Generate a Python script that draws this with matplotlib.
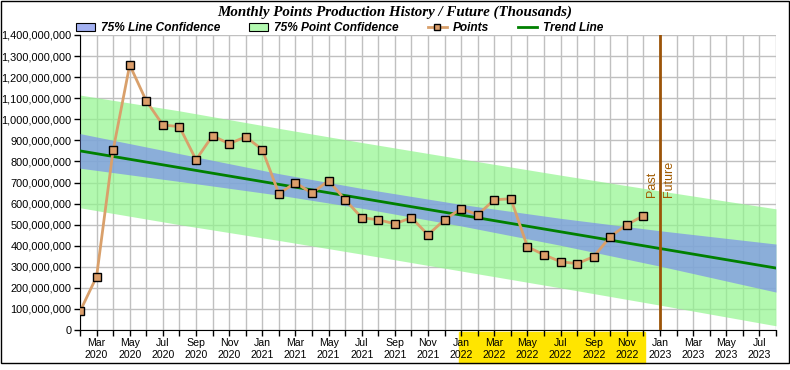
import matplotlib
matplotlib.use("Agg")
import matplotlib.pyplot as plt
import matplotlib.patches as mpatches
import matplotlib.lines as mlines
import matplotlib.transforms as mtransforms
from matplotlib.ticker import FuncFormatter
import pandas as pd
import numpy as np

# monthly points (millions), Feb 2020 .. Dec 2022
points = [88, 253, 854, 1258, 1087, 973, 965, 808, 922, 884, 917, 856,
          647, 699, 649, 709, 618, 533, 523, 504, 533, 452, 523, 576,
          547, 618, 623, 395, 357, 324, 315, 348, 443, 500, 542]

# trend line (millions) at month index 0 (Feb 2020) and 42 (Aug 2023)
trend_months = [0, 42]
trend_vals = [850, 294]

# confidence band edges (millions), read at these month indices
band_months = [0, 6, 12, 17, 23, 29, 35, 42]
line_upper = [932, 837, 742, 672, 596, 530, 471, 408]
line_lower = [768, 705, 640, 578, 494, 402, 303, 180]
point_upper = [1115, 1040, 957, 890, 812, 735, 660, 575]
point_lower = [580, 500, 425, 360, 280, 200, 118, 20]

months = pd.date_range("2020-02-01", periods=43, freq="MS")
month_labels = [d.strftime("%b") + "\n" + d.strftime("%Y") for d in months]
split_month = 35   # Jan 2023, past / future
highlight = (22.85, 34.1)   # 2022 labels highlighted

M = 1e6
fig = plt.figure(figsize=(7.9, 3.7), dpi=100)
ax = fig.add_axes([80 / 790, 1 - 330 / 370, 696 / 790, 295 / 370])

ax.fill_between(band_months, np.array(point_lower) * M, np.array(point_upper) * M,
                color=(146 / 255, 246 / 255, 142 / 255), alpha=0.7, lw=0, zorder=2)
ax.fill_between(band_months, np.array(line_lower) * M, np.array(line_upper) * M,
                color=(123 / 255, 143 / 255, 236 / 255), alpha=0.7, lw=0, zorder=3)
ax.plot(trend_months, np.array(trend_vals) * M, color="#008000", lw=2, zorder=4)
ax.plot(range(len(points)), np.array(points) * M, color="#d9a06b", lw=2,
        marker="s", markersize=6, markerfacecolor="#dc9e6a", markeredgecolor="black",
        markeredgewidth=1, zorder=5)

ax.axvline(split_month, color="#9c5408", lw=2, zorder=6)
ax.text(split_month - 0.15, 632 * M, "Past", rotation=90, ha="right", va="bottom",
        color="#a05a00", fontsize=9, family="Liberation Sans", zorder=7)
ax.text(split_month + 0.2, 632 * M, "Future", rotation=90, ha="left", va="bottom",
        color="#a05a00", fontsize=9, family="Liberation Sans", zorder=7)

ax.set_xlim(0, 42)
ax.set_ylim(0, 1.4e9)
ax.set_yticks(np.arange(0, 1.41e9, 1e8))
ax.yaxis.set_major_formatter(FuncFormatter(lambda v, p: f"{v:,.0f}"))
ax.set_xticks(range(43))
ax.set_xticklabels([lab if i % 2 == 1 else "" for i, lab in enumerate(month_labels)])
ax.tick_params(axis="both", length=4, width=1, direction="out")
ax.tick_params(axis="y", labelsize=7.9, pad=2)
ax.tick_params(axis="x", labelsize=7.6, pad=2)
for lab in ax.get_xticklabels() + ax.get_yticklabels():
    lab.set_family("Liberation Sans")
ax.grid(True, color="#c0c0c0", lw=1, zorder=1)
ax.set_axisbelow(True)
ax.spines["top"].set_visible(False)
ax.spines["right"].set_visible(False)

# yellow label background for 2022
trans = mtransforms.blended_transform_factory(ax.transData, ax.transAxes)
ax.add_patch(mpatches.Rectangle((highlight[0], -0.112), highlight[1] - highlight[0], 0.106,
                                transform=trans, clip_on=False, color="#ffe500", zorder=0))

fig.text(0.5, 1 - 12 / 370, "Monthly Points Production History / Future (Thousands)",
         ha="center", va="center", fontsize=10.8, weight="bold", style="italic",
         family="Liberation Serif")

handles = [
    mpatches.Patch(facecolor="#a3b1f2", edgecolor="black", lw=0.8, label="75% Line Confidence"),
    mpatches.Patch(facecolor="#b3f9b0", edgecolor="black", lw=0.8, label="75% Point Confidence"),
    mlines.Line2D([], [], color="#d9a06b", lw=2, marker="s", markersize=5,
                  markerfacecolor="#dc9e6a", markeredgecolor="black", label="Points"),
    mlines.Line2D([], [], color="#008000", lw=2, label="Trend Line"),
]
fig.legend(handles=handles, loc="center", bbox_to_anchor=(0.43, 1 - 28 / 370), ncol=4,
           frameon=False, handlelength=1.6, handleheight=0.7, columnspacing=2.4,
           handletextpad=0.5, borderpad=0,
           prop={"family": "Liberation Sans", "weight": "bold", "style": "italic", "size": 8.6})

fig.add_artist(mpatches.Rectangle((0.5 / 790, 1 - 363 / 370), 788 / 790, 362.5 / 370,
                                  transform=fig.transFigure, fill=False, ec="black", lw=1))

fig.savefig("out.png", dpi=100)
